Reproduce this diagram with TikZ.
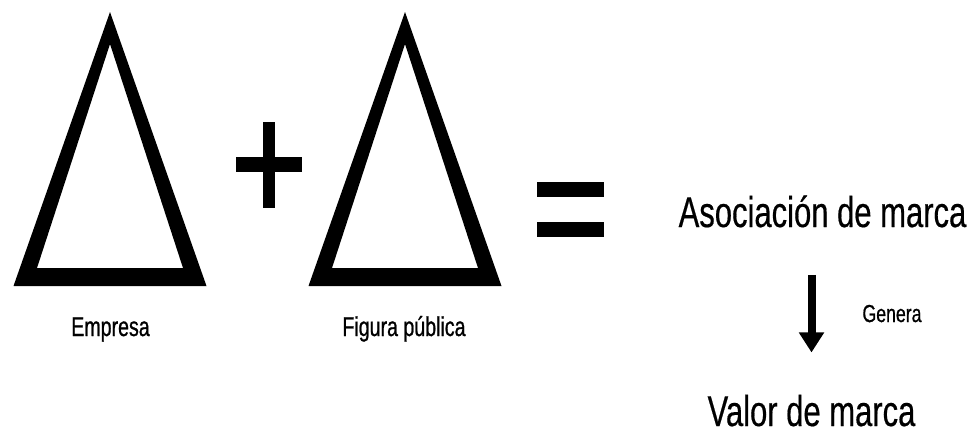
\documentclass[tikz,border=0pt]{standalone}
\usepackage{fontspec}
\setmainfont[FakeStretch=0.72]{Liberation Sans}
\usetikzlibrary{arrows.meta}

\begin{document}
\begin{tikzpicture}[x=0.02cm,y=-0.02cm,
    bigtext/.style={anchor=base,inner sep=0pt,font=\fontsize{24.5}{29}\selectfont\addfontfeature{FakeBold=0.4}},
    smalltext/.style={anchor=base,inner sep=0pt,font=\fontsize{15.5}{18}\selectfont\addfontfeature{FakeBold=0.8}},
    genarrow/.style={line width=0.16cm,-{Triangle[width=0.48cm,length=0.4cm]}}]
      \useasboundingbox (0,0) rectangle (973,434);
      % the two triangles
      \foreach \cx in {110,405}
        \fill[even odd rule] (\cx-96.5,286) -- (\cx,12) -- (\cx+96.5,286) -- cycle
          (\cx-73,268) -- (\cx,44) -- (\cx+73,268) -- cycle;
      % plus and equals
      \fill (263,122) rectangle (275,208);
      \fill (236,157) rectangle (302,172);
      \fill (537,182) rectangle (604,197);
      \fill (537,222) rectangle (604,237);
      \node[smalltext] (empresa) at (110.5,336) {Empresa};
      \node[smalltext] (figura) at (404,336) {Figura pública};
      \node[bigtext] (aso) at (822.5,227) {Asociación de marca};
      \node[bigtext] (valor) at (811.5,426) {Valor de marca};
      \draw[genarrow,shorten <=0.94cm,shorten >=0.84cm] (valor.north |- aso.south) -- (valor.north);
      \node[anchor=base,inner sep=0pt,font=\fontsize{14}{16}\selectfont\addfontfeature{FakeBold=0.6}] (genera) at (892,322) {Genera};
\end{tikzpicture}
\end{document}
